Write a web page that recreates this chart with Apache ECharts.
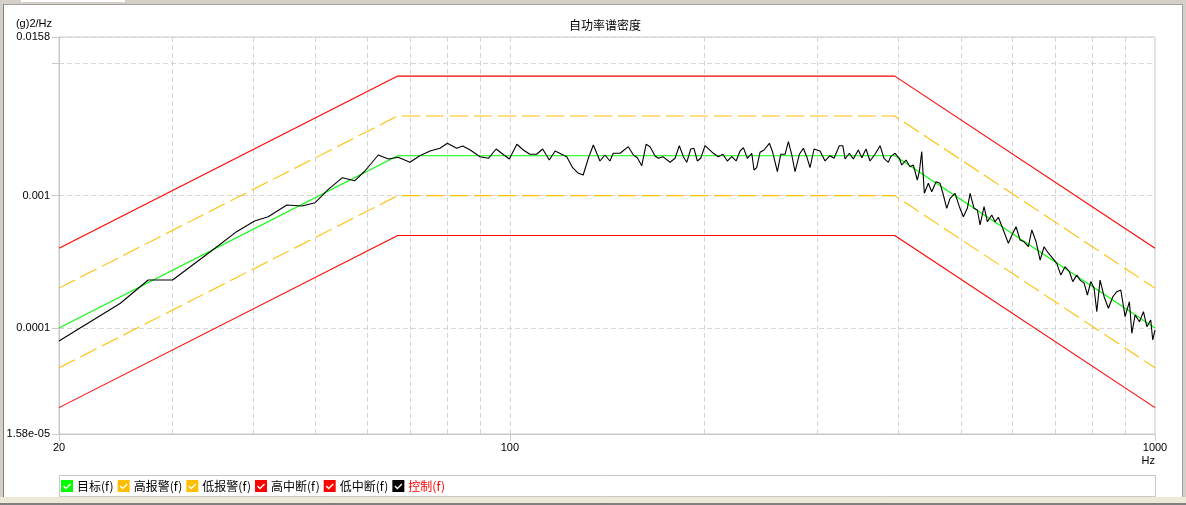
<!DOCTYPE html>
<html><head><meta charset="utf-8">
<script src="https://cdn.jsdelivr.net/npm/echarts@6/dist/echarts.min.js"></script>
<style>html,body{margin:0;padding:0;background:#fff}#c{width:1186px;height:505px}</style>
</head><body><div id="c"></div>
<script>
// ---- data ----
const seriesNames = ['目标(f)', '高报警(f)', '低报警(f)', '高中断(f)', '低中断(f)', '控制(f)'];
const profileFreq = [20, 67, 395, 1000];
const targetPsd    = [0.0001,   0.002,  0.002,  0.0001];
const highAlarmPsd = [0.0002,   0.004,  0.004,  0.0002];
const lowAlarmPsd  = [0.00005,  0.001,  0.001,  0.00005];
const highAbortPsd = [0.0004,   0.008,  0.008,  0.0004];
const lowAbortPsd  = [0.000025, 0.0005, 0.0005, 0.000025];

const controlFreq = [20, 24.9, 27.5, 30.0, 34.9, 37.7, 40.2, 42.2, 45.1, 47.6, 49.9, 52.3, 55.0, 57.5, 59.6, 62.5, 64.8, 67.1, 70.0,
  72.5, 75.2, 77.9, 80.0, 82.7, 84.5, 86.8, 89.9, 92.6, 95.2, 97.1, 99.8, 102.5, 104.9, 107.4, 110.0, 112.4, 115.1, 117.5, 122.5,
  125.1, 127.7, 129.9, 132.3, 134.7, 137.9, 140.4, 142.9, 144.6, 148.2, 152.6, 155.4, 157.6, 160.1, 162.6, 164.9, 167.9, 169.9,
  172.6, 177.1, 180.3, 183.1, 185.7, 188.0, 190.7, 192.9, 195.2, 197.6, 200.7, 206.7, 210.4, 213.8, 217.3, 220.8, 224.2, 227.4,
  230.1, 233.4, 237.1, 239.0, 241.3, 244.2, 247.7, 252.5, 255.5, 259.8, 262.9, 267.0, 270.2, 273.5, 276.7, 281.0, 285.0, 288.5,
  291.9, 296.1, 302.5, 308.0, 313.5, 318.0, 324.1, 328.1, 330.8, 335.9, 340.7, 346.8, 351.1, 356.5, 361.6, 368.1, 374.8, 380.1,
  386.0, 389.3, 395.4, 401.5,
  404.9, 411.2, 417.1, 422.0, 428.1, 431.2, 434.9, 439.0, 445.3, 450.7, 457.7, 464.3, 469.8, 475.5, 481.2, 489.8, 497.4, 504.6,
  511.8, 516.8, 524.2, 530.4, 535.6, 543.3, 549.7, 558.4, 565.1, 571.7, 582.0, 592.5, 601.9, 609.0, 617.8, 626.7, 636.4, 644.2,
  654.2, 663.6, 673.1, 683.5, 694.3, 704.3, 714.4, 725.5, 736.7, 745.7, 756.4, 765.4, 776.4, 785.6, 795.2, 804.6, 812.4, 822.0,
  833.9, 846.8, 860.2, 872.5, 885.1, 898.8, 912.7, 920.6, 931.5, 946.0, 959.6, 971.3, 984.9, 991.9, 1000];
const controlPsd = [7.97e-5, 1.536e-4, 2.304e-4, 2.304e-4, 4.0e-4, 5.34e-4, 6.43e-4, 6.93e-4, 8.49e-4, 8.35e-4, 8.84e-4, 1.116e-3,
  1.366e-3, 1.297e-3, 1.535e-3, 2.028e-3, 1.891e-3, 1.948e-3, 1.786e-3,
  2.003e-3, 2.174e-3, 2.278e-3, 2.486e-3, 2.278e-3, 2.371e-3, 2.212e-3, 1.969e-3, 1.915e-3, 2.251e-3, 2.089e-3, 1.891e-3, 2.443e-3,
  2.212e-3, 2.053e-3, 2.053e-3, 2.251e-3, 1.858e-3, 2.174e-3, 1.969e-3,
  1.626e-3, 1.474e-3, 1.432e-3, 1.915e-3, 2.414e-3, 1.827e-3, 2.028e-3, 1.827e-3, 2.089e-3, 2.089e-3, 2.343e-3, 2.028e-3, 1.935e-3,
  1.683e-3, 2.443e-3, 2.343e-3, 1.993e-3, 1.915e-3,
  1.969e-3, 1.786e-3, 1.915e-3, 2.384e-3, 1.969e-3, 1.786e-3, 2.251e-3, 2.278e-3, 1.827e-3, 1.915e-3, 2.384e-3, 2.089e-3, 1.969e-3,
  2.053e-3, 1.827e-3, 1.969e-3, 1.827e-3, 2.174e-3,
  2.303e-3, 1.915e-3, 2.089e-3, 1.562e-3, 1.626e-3, 2.125e-3, 2.212e-3, 2.486e-3, 2.125e-3, 1.516e-3, 2.053e-3, 2.053e-3, 2.556e-3,
  2.028e-3, 1.516e-3, 2.053e-3, 2.278e-3, 1.969e-3,
  1.626e-3, 2.251e-3, 2.174e-3, 1.827e-3, 2.003e-3, 1.915e-3, 2.384e-3, 2.384e-3, 1.891e-3, 2.089e-3, 1.891e-3, 2.212e-3, 1.935e-3,
  2.251e-3, 1.827e-3, 2.053e-3, 2.384e-3, 1.915e-3,
  1.786e-3, 1.969e-3, 2.089e-3, 1.915e-3,
  1.704e-3, 1.858e-3, 1.654e-3, 1.704e-3, 1.312e-3, 1.516e-3, 2.148e-3, 1.041e-3, 1.239e-3, 1.071e-3, 1.274e-3, 1.239e-3, 1.011e-3,
  8.02e-4, 9.54e-4, 1.041e-3, 8.25e-4, 6.93e-4,
  8.02e-4, 1.041e-3, 8.02e-4, 7.79e-4, 6.0e-4, 8.25e-4, 6.35e-4, 7.14e-4, 6.35e-4, 6.86e-4, 5.50e-4, 4.36e-4, 5.19e-4, 5.82e-4,
  4.62e-4, 4.48e-4, 4.11e-4, 5.50e-4,
  4.48e-4, 3.26e-4, 4.11e-4, 3.67e-4, 3.36e-4, 3.08e-4, 2.51e-4, 2.90e-4, 2.66e-4, 2.24e-4, 2.51e-4, 2.30e-4, 2.18e-4, 1.774e-4,
  2.24e-4, 1.994e-4, 1.327e-4, 2.30e-4,
  1.722e-4, 1.408e-4, 1.722e-4, 1.879e-4, 1.936e-4, 1.217e-4, 1.579e-4, 9.11e-5, 1.253e-4, 1.115e-4, 1.327e-4, 1.022e-4, 1.149e-4,
  8.11e-5, 9.65e-5];

const xLabelValues = [20, 100, 1000];
const xLabelTexts = ['20', '100', '1000'];
const yLabelValues = [0.0000158, 0.0001, 0.001, 0.0158];
const yLabelTexts = ['1.58e-05', '0.0001', '0.001', '0.0158'];
const xGridValues = [30, 40, 50, 60, 70, 80, 90, 100, 200, 300, 400, 500, 600, 700, 800, 900];

// ---- helpers ----
const zip = (xs, ys) => xs.map((x, i) => [x, ys[i]]);
function pickLabel(values, texts) {
  return function (v) {
    for (let i = 0; i < values.length; i++) {
      if (Math.abs(Math.log10(v) - Math.log10(values[i])) < 0.004) return texts[i];
    }
    return '';
  };
}
const checkIcon = 'path://M0 0H12V12H0Z M2 6.5L5 9.5L10 4.5L9 3.5L5 7.5L3 5.5Z';
const latin = 'Liberation Sans';
const cjk = '"Noto Sans CJK SC"';

const chart = echarts.init(document.getElementById('c'), null, { renderer: 'canvas' });

function line(name, data, color, dashed, z) {
  return {
    name: name, type: 'line', data: data, showSymbol: false, symbol: 'none', silent: true, z: z,
    color: color,
    lineStyle: { color: color, width: 1.1, type: dashed ? [18, 6] : 'solid' },
    emphasis: { disabled: true }
  };
}

const series = [
  line(seriesNames[0], zip(profileFreq, targetPsd), '#00ff00', false, 4),
  line(seriesNames[1], zip(profileFreq, highAlarmPsd), '#ffbf00', true, 3),
  line(seriesNames[2], zip(profileFreq, lowAlarmPsd), '#ffbf00', true, 3),
  line(seriesNames[3], zip(profileFreq, highAbortPsd), '#ff0000', false, 3),
  line(seriesNames[4], zip(profileFreq, lowAbortPsd), '#ff0000', false, 3),
  line(seriesNames[5], zip(controlFreq, controlPsd), '#000000', false, 5)
];
series[0].markLine = {
  silent: true, symbol: ['none', 'none'], z: 1, animation: false,
  label: { show: false },
  lineStyle: { color: '#d6d6d6', width: 1, type: [5, 3] },
  data: xGridValues.map(v => ({ xAxis: v }))
};

chart.setOption({
  animation: false,
  backgroundColor: '#ffffff',
  title: {
    text: '自功率谱密度', left: 564, top: 14,
    textStyle: { fontFamily: cjk, fontSize: 12, fontWeight: 'normal', color: '#000' }
  },
  grid: { left: 59, right: 31, top: 37, bottom: 71, show: true, borderColor: '#c8c8c8', borderWidth: 1, backgroundColor: 'transparent' },
  legend: {
    left: 61, top: 480, itemWidth: 12, itemHeight: 12, itemGap: 4, selectedMode: false, padding: 0,
    icon: checkIcon,
    itemStyle: { borderWidth: 0 },
    textStyle: { fontFamily: cjk, fontSize: 12, color: '#000', padding: [0, 0, 0, -1] },
    data: seriesNames.map((n, i) => ({ name: n, textStyle: { color: i === 5 ? '#ff0000' : '#000' } }))
  },
  xAxis: {
    type: 'log', logBase: 10, min: 20, max: 1000,
    name: 'Hz', nameLocation: 'end', nameGap: 0,
    nameTextStyle: { fontFamily: latin, fontSize: 11, color: '#000', align: 'right', verticalAlign: 'top', padding: [21, 0, 0, 0] },
    axisLine: { show: true, lineStyle: { color: '#c8c8c8' } },
    axisTick: { show: true, length: 7, lineStyle: { color: '#c8c8c8' } },
    minorTick: { show: false },
    splitLine: { show: false },
    axisLabel: { margin: 8, fontFamily: latin, fontSize: 11, color: '#000', formatter: pickLabel(xLabelValues, xLabelTexts) }
  },
  yAxis: {
    type: 'log', logBase: 10, min: 0.0000158, max: 0.0158,
    name: '(g)2/Hz', nameLocation: 'end', nameGap: 8,
    nameTextStyle: { fontFamily: latin, fontSize: 11, color: '#000', align: 'right', padding: [0, 7, 0, 0] },
    axisLine: { show: true, lineStyle: { color: '#c8c8c8' } },
    axisTick: { show: true, length: 7, lineStyle: { color: '#c8c8c8' } },
    splitLine: { show: true, lineStyle: { color: '#d6d6d6', width: 1, type: [5, 3] } },
    axisLabel: { margin: 9, fontFamily: latin, fontSize: 11, color: '#000', formatter: pickLabel(yLabelValues, yLabelTexts) }
  },
  graphic: [
    { type: 'rect', left: 0, top: 0, shape: { width: 1186, height: 4 }, style: { fill: '#d4d0c8' }, silent: true },
    { type: 'rect', left: 21, top: 0, shape: { width: 104, height: 2 }, style: { fill: '#ffffff' }, silent: true },
    { type: 'rect', left: 0, top: 4, shape: { width: 1186, height: 1 }, style: { fill: '#a0a0a0' }, silent: true },
    { type: 'rect', left: 0, top: 0, shape: { width: 3, height: 505 }, style: { fill: '#d4d0c8' }, silent: true },
    { type: 'rect', left: 3, top: 4, shape: { width: 1, height: 494 }, style: { fill: '#808080' }, silent: true },
    { type: 'rect', left: 1183, top: 0, shape: { width: 3, height: 505 }, style: { fill: '#d4d0c8' }, silent: true },
    { type: 'rect', left: 1182, top: 4, shape: { width: 1, height: 494 }, style: { fill: '#a0a0a0' }, silent: true },
    { type: 'rect', left: 0, top: 497, shape: { width: 1186, height: 6 }, style: { fill: '#ece9d8' }, silent: true },
    { type: 'rect', left: 0, top: 503, shape: { width: 1186, height: 2 }, style: { fill: '#808080' }, silent: true },
    { type: 'rect', left: 59, top: 475, shape: { width: 1096, height: 21 }, style: { fill: '#ffffff', stroke: '#c8c8c8', lineWidth: 1 }, silent: true }
  ],
  series: series
});
</script></body></html>
